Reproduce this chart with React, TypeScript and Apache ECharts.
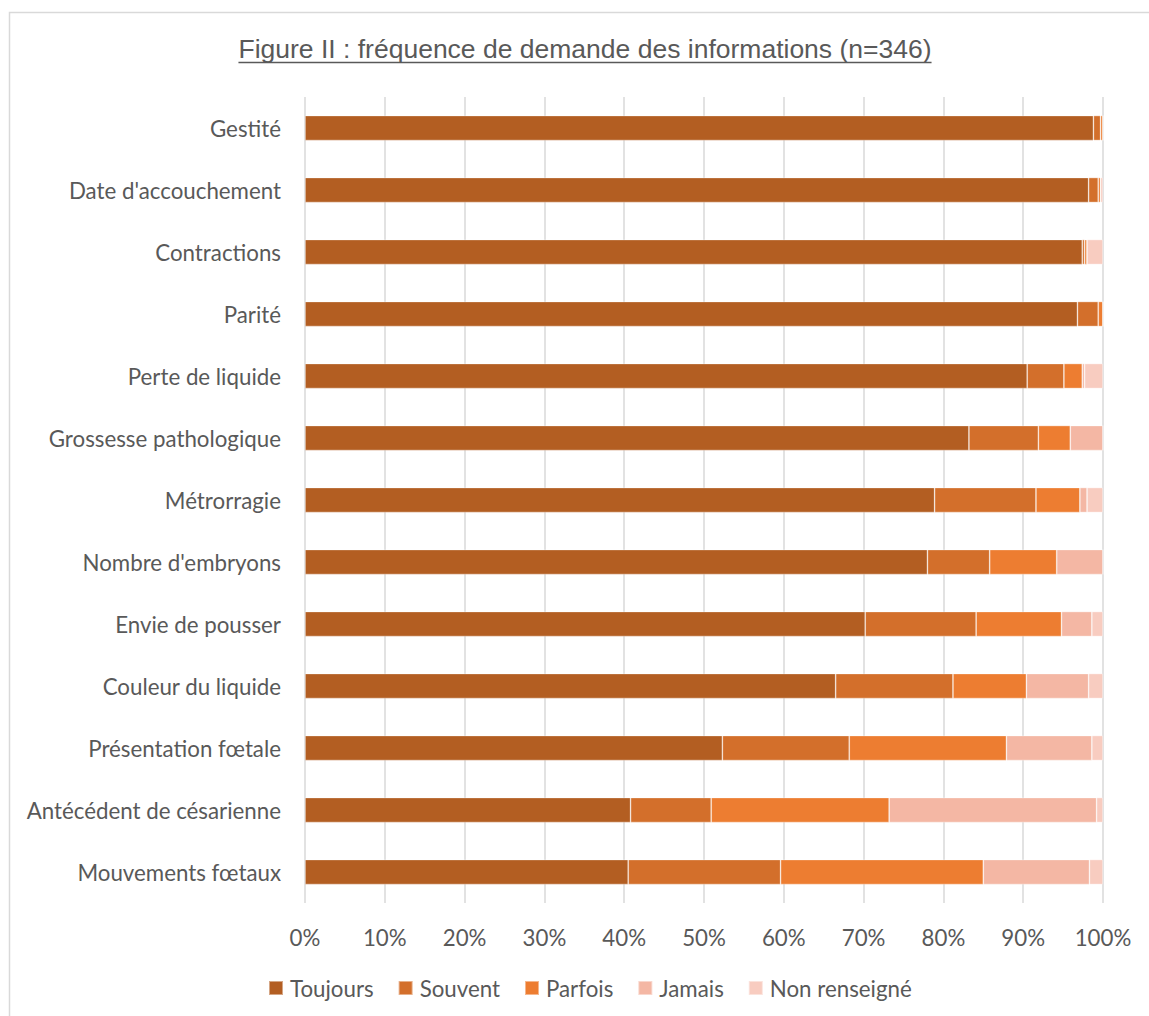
import React, { useEffect, useRef } from "react";
import * as echarts from "echarts";

const categories = [
  "Gestité",
  "Date d'accouchement",
  "Contractions",
  "Parité",
  "Perte de liquide",
  "Grossesse pathologique",
  "Métrorragie",
  "Nombre d'embryons",
  "Envie de pousser",
  "Couleur du liquide",
  "Présentation fœtale",
  "Antécédent de césarienne",
  "Mouvements fœtaux",
];

const toujours = [98.8, 98.2, 97.4, 96.8, 90.5, 83.2, 78.9, 78.0, 70.2, 66.5, 52.3, 40.8, 40.5];
const souvent = [0.9, 1.2, 0.3, 2.6, 4.6, 8.7, 12.7, 7.8, 13.9, 14.7, 15.9, 10.1, 19.1];
const parfois = [0.3, 0.3, 0.3, 0.6, 2.3, 4.0, 5.5, 8.4, 10.7, 9.2, 19.7, 22.3, 25.4];
const jamais = [0, 0, 0, 0, 0.3, 4.1, 0.9, 5.8, 3.8, 7.8, 10.7, 26.0, 13.3];
const nonRenseigne = [0, 0.3, 2.0, 0, 2.3, 0, 2.0, 0, 1.4, 1.8, 1.4, 0.8, 1.7];

const seriesNames = ["Toujours", "Souvent", "Parfois", "Jamais", "Non renseigné"];
const seriesColors = ["#B35E22", "#D36F2B", "#ED7D31", "#F4B7A4", "#F8CCC0"];

const titleText = "Figure II : fréquence de demande des informations (n=346)";

export default function App() {
  const ref = useRef<HTMLDivElement>(null);

  useEffect(() => {
    if (!ref.current) return;
    const chart = echarts.init(ref.current, undefined, { renderer: "svg" });

    const titleFont = "26.5px 'Liberation Sans'";
    const ctx = document.createElement("canvas").getContext("2d");
    let titleW = 695;
    if (ctx) {
      ctx.font = titleFont;
      titleW = ctx.measureText(titleText).width;
    }
    const titleCx = 585;
    const titleY = 49;

    const values = [toujours, souvent, parfois, jamais, nonRenseigne];
    const labelFont = "Lato";
    const labelSize = 22.3;

    chart.setOption({
      animation: false,
      backgroundColor: "#ffffff",
      grid: { left: 305, right: 46, top: 97, bottom: 113, containLabel: false },
      xAxis: {
        type: "value",
        min: 0,
        max: 100,
        interval: 10,
        axisLine: { show: false },
        axisTick: { show: false },
        axisLabel: {
          formatter: "{value}%",
          color: "#595959",
          fontFamily: labelFont,
          fontSize: labelSize,
          margin: 23,
        },
        splitLine: { show: true, lineStyle: { color: "#D9D9D9", width: 1.5 } },
      },
      yAxis: {
        type: "category",
        data: categories,
        inverse: true,
        axisLine: { show: false },
        axisTick: { show: false },
        splitLine: { show: false },
        axisLabel: {
          color: "#595959",
          fontFamily: labelFont,
          fontSize: labelSize,
          margin: 24,
          padding: [0, 0, 3, 0],
        },
      },
      legend: {
        data: seriesNames,
        left: 263,
        top: 972,
        itemWidth: 14,
        itemHeight: 14,
        itemGap: 24,
        icon: "rect",
        textStyle: { color: "#595959", fontFamily: labelFont, fontSize: labelSize, padding: [0, 0, 0, 2] },
      },
      series: seriesNames.map((name, i) => ({
        name,
        type: "bar",
        stack: "total",
        barWidth: 25,
        data: values[i],
        itemStyle: {
          color: seriesColors[i],
          borderColor: "rgba(255,255,255,0.45)",
          borderWidth: 0.75,
        },
        emphasis: { disabled: true },
      })),
      graphic: [
        {
          type: "rect",
          shape: { x: 9.5, y: 12.5, width: 1200, height: 1100 },
          style: { fill: "none", stroke: "#D9D9D9", lineWidth: 1.5 },
          silent: true,
        },
        {
          type: "text",
          x: titleCx,
          y: titleY,
          style: {
            text: titleText,
            font: titleFont,
            fill: "#595959",
            textAlign: "center",
            textVerticalAlign: "middle",
          },
        },
        {
          type: "line",
          shape: {
            x1: titleCx - titleW / 2,
            y1: titleY + 13.5,
            x2: titleCx + titleW / 2,
            y2: titleY + 13.5,
          },
          style: { stroke: "#595959", lineWidth: 1.3 },
        },
      ],
    });

    return () => chart.dispose();
  }, []);

  return (
    <div
      ref={ref}
      style={{ position: "absolute", left: 0, top: 0, width: 1149, height: 1016 }}
    />
  );
}
